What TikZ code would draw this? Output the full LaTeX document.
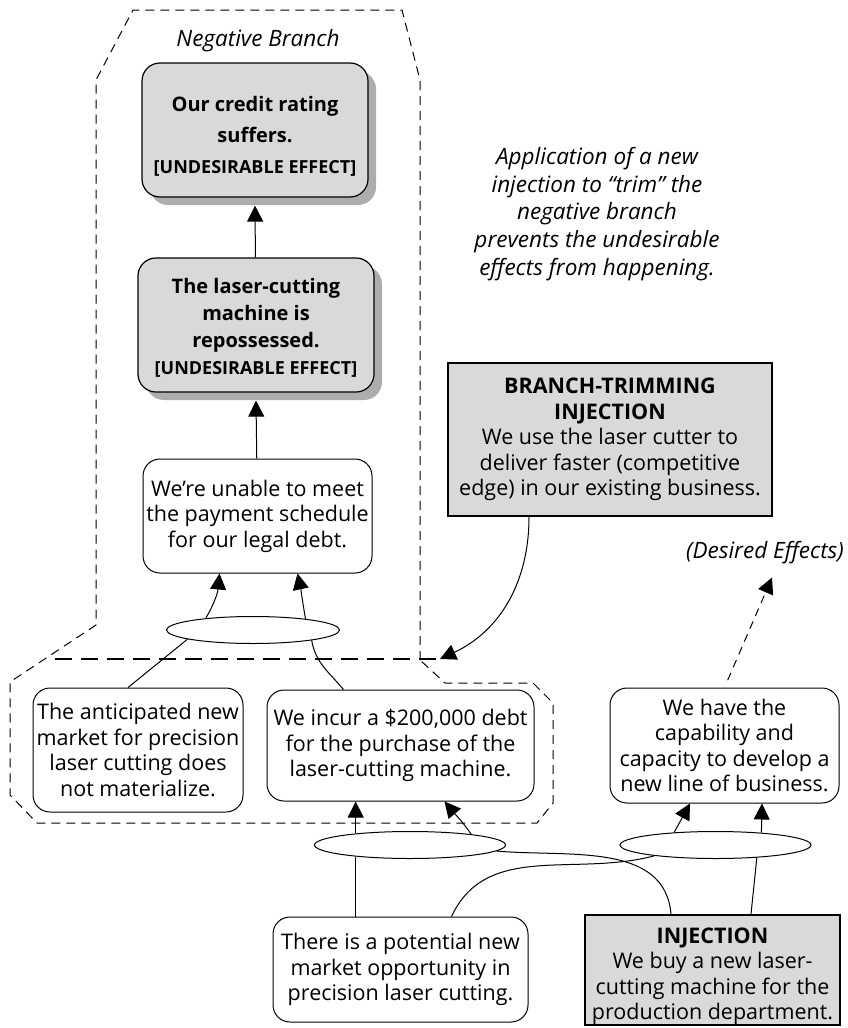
\documentclass[tikz,border=0pt]{standalone}
\usepackage{fontspec}
\setmainfont{Open Sans}
\usepackage{tikz}
\usetikzlibrary{shapes.geometric, arrows.meta, positioning, shadows}
\tikzstyle{arrow} = [line width=1pt, -{Triangle[length=16pt, width=16pt]}]
\tikzstyle{link} = [line width=1pt]
\tikzstyle{effect} = [rectangle, rounded corners=18pt, draw=black, line width=1.2pt, fill=black!15, align=center, inner sep=0pt, font=\bfseries\fontsize{20}{27}\selectfont, drop shadow={shadow xshift=8pt, shadow yshift=-8pt, fill=black!32, opacity=1}]
\tikzstyle{entity} = [rectangle, rounded corners=17pt, draw=black, line width=1pt, fill=white, align=center, inner sep=0pt]
\tikzstyle{injection} = [rectangle, draw=black, line width=2.2pt, fill=black!15, align=center, inner sep=0pt]
\tikzstyle{junction} = [ellipse, draw=black, line width=1pt, minimum width=191pt, minimum height=27pt, inner sep=0pt]
\tikzstyle{remark} = [font=\itshape\fontsize{22.5}{27.7}\selectfont, align=center, inner sep=2pt]
\tikzstyle{outline} = [line width=1pt, dash pattern=on 9pt off 6pt]
\tikzstyle{trimline} = [line width=2.5pt, dash pattern=on 17pt off 9pt]
\newcommand{\undesirable}{{\fontsize{18}{22}\selectfont [UNDESIRABLE EFFECT]}}

\begin{document}
\begin{tikzpicture}[x=1pt, y=1pt, every node/.style={font=\fontsize{21.5}{25.5}\selectfont}]
\useasboundingbox (0,0) rectangle (847,-1028);

% Negative branch
\node (neglabel) [remark] at (258,-41) {Negative Branch};
\node (ue1) [effect, minimum width=226pt, minimum height=134pt] at (255,-130) {\rule{0pt}{27pt}Our credit rating\\[4pt]suffers.\\[4pt]\undesirable};
\node (ue2) [effect, minimum width=236pt, minimum height=134pt] at (256,-325) {\rule{0pt}{21pt}The laser-cutting\\machine is\\repossessed.\\\undesirable};
\node (unable) [entity, minimum width=229pt, minimum height=114pt] at (257.5,-516) {We’re unable to meet\\the payment schedule\\for our legal debt.};
\node (and1) [junction, minimum width=173pt] at (253,-630) {};

% Causes that get trimmed
\node (nomarket) [entity, minimum width=210pt, minimum height=124pt] at (138,-750) {The anticipated new\\market for precision\\laser cutting does\\not materialize.};
\node (debt) [entity, minimum width=267pt, minimum height=111pt] at (400.5,-745.5) {We incur a \$200,000 debt\\for the purchase of the\\laser-cutting machine.};

% Lower branch
\node (and2) [junction] at (410,-845) {};
\node (market) [entity, minimum width=255pt, minimum height=105pt] at (400.5,-969.5) {There is a potential new\\market opportunity in\\precision laser cutting.};
\node (inj) [injection, minimum width=255pt, minimum height=107pt] at (712.5,-970) {\rule{0pt}{28pt}\textbf{INJECTION}\\We buy a new laser-\\cutting machine for the\\production department.};
\node (and3) [junction] at (715.5,-845) {};
\node (capability) [entity, minimum width=229pt, minimum height=115pt] at (724.5,-745.5) {We have the\\capability and\\capacity to develop a\\new line of business.};
\node (desired) [remark] at (765,-553) {(Desired Effects)};

% Branch trimming
\node (trim) [injection, minimum width=324pt, minimum height=153pt] at (610,-439.5) {\textbf{BRANCH-TRIMMING}\\\textbf{INJECTION}\\We use the laser cutter to\\deliver faster (competitive\\edge) in our existing business.};
\node (note) [remark] at (597,-214) {Application of a new\\injection to “trim” the\\negative branch\\prevents the undesirable\\effects from happening.};

\coordinate (cutw) at (55,-659);
\coordinate (cute) at (440,-659);

% Outline round the negative branch
\draw [outline] (420,-660) -- (420,-80) -- (402,-10) -- (133,-10) -- (96,-80) -- (96,-625) -- (10,-682) -- (10,-795) -- (37,-823) -- (537,-823) -- (553,-803) -- (553,-703) -- (533,-683) -- (445,-683) -- cycle;
\draw [trimline] (cutw) -- (cute);

% Connections
\draw [arrow] (unable) -- ([yshift=-8pt]ue2.south);
\draw [arrow] (ue2) -- ([yshift=-8pt]ue1.south);
\draw [arrow] (and1.166) to[out=60, in=-95] ([xshift=-38pt]unable.south);
\draw [arrow] (and1.12) to[out=100, in=-78] ([xshift=40pt]unable.south);
\draw [link] ([xshift=-10pt]nomarket.north) -- (and1.188);
\draw [link] (and1.350) to[out=-80, in=130] ([xshift=-57pt]debt.north);

\draw [arrow] (and2.168) -- (and2.168 |- debt.south);
\draw [arrow] (and2.10) to[out=125, in=-50] ([xshift=44pt]debt.south);
\draw [link] (and2.192) -- (and2.192 |- market.north);
\draw [link] (and2.356) to[out=-5, in=95] ([xshift=-41.5pt]inj.north);

\draw [link] ([xshift=51pt]market.north) to[out=65, in=195] (and3.190);
\draw [link] ([xshift=38.5pt]inj.north) -- (and3.343);
\draw [arrow] (and3.163) -- ([xshift=-34.5pt]capability.south);
\draw [arrow] (and3.15) -- ([xshift=37.5pt]capability.south);
\draw [arrow, dash pattern=on 8pt off 6pt, shorten <=8pt] (capability.north) -- ([xshift=7pt, yshift=-11pt]desired.south);

\draw [arrow] ([xshift=-81pt]trim.south) to[out=-90, in=25] (cute);

\end{tikzpicture}
\end{document}
